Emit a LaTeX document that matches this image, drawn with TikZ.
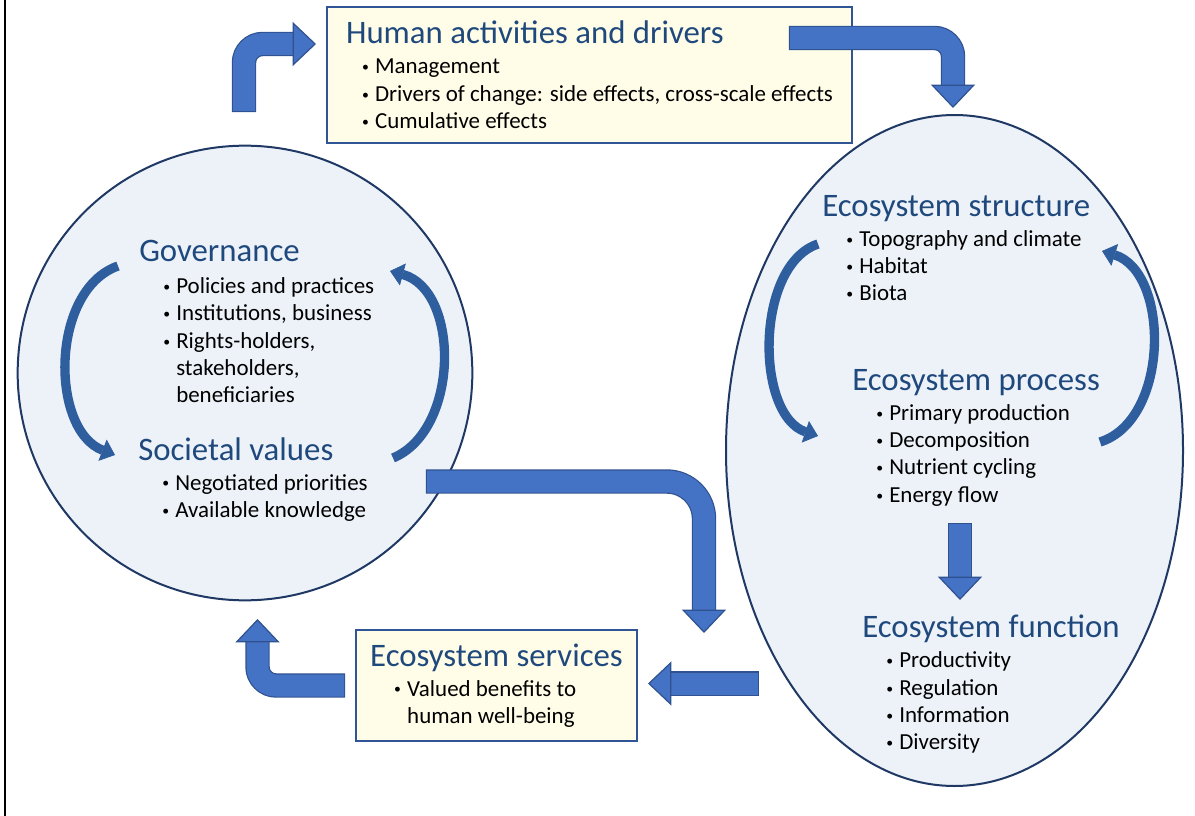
\documentclass[tikz,border=0pt]{standalone}
\usepackage{fontspec}
\setmainfont{Carlito}
\usepackage{graphicx}
\usepackage{tikz}
\usetikzlibrary{arrows.meta,positioning,shapes.geometric}

\definecolor{headblue}{RGB}{31,73,125}
\definecolor{boxedge}{RGB}{47,85,151}
\definecolor{boxfill}{RGB}{255,253,232}
\definecolor{zoneedge}{RGB}{31,56,100}
\definecolor{zonefill}{RGB}{237,242,249}
\definecolor{arrfill}{RGB}{68,114,196}
\definecolor{arredge}{RGB}{47,82,143}
\definecolor{loopblue}{RGB}{46,94,158}

\newcommand{\hdr}[1]{{\color{headblue}\fontsize{24.6}{28}\selectfont #1}}
\newcommand{\bul}[1][18pt]{\hspace*{#1}\makebox[9.75pt][l]{\raisebox{0.2ex}{\scalebox{0.6}{\textbullet}}}}
\newcommand{\hng}{\hspace*{27.75pt}}

\begin{document}
\begin{tikzpicture}[x=0.75pt,y=-0.75pt,
box/.style={draw=boxedge,line width=1.9pt,fill=boxfill,align=left,font=\fontsize{17.2}{20.5}\selectfont},
txt/.style={align=left,anchor=north west,inner sep=0pt,font=\fontsize{17.2}{20.5}\selectfont},
zone/.style={draw=zoneedge,line width=1.5pt,fill=zonefill,inner sep=0pt},
arr/.style={draw=arrfill,line width=16.5pt,rounded corners=14pt,
  -{Triangle[length=17.5pt,width=33pt,line width=0.9pt,color=arredge,fill=arrfill]},
  preaction={draw=arredge,line width=18.3pt,arrows=-,shorten >=16pt,shorten <=-0.9pt}},
looparr/.style={draw=loopblue,line width=7pt,-{Triangle[length=10pt,width=17pt,line width=0.5pt]}}]
\useasboundingbox (0,0) rectangle (1195,816);
\draw[line width=1.5pt] (5,0) -- (5,816);

% the two big zones
\node[zone,circle,minimum size=341pt] (society) at (245,373) {};
\node[zone,ellipse,minimum width=342.75pt,minimum height=503.25pt] (eco) at (954.5,450.5) {};

% boxes
\node[box,minimum width=393.75pt,minimum height=102pt] (hum) at (589.5,75)
  {\hdr{Human activities and drivers}\\[2pt]
   \bul[12pt]Management\\
   \bul[12pt]Drivers of change: side effects, cross-scale effects\\
   \bul[12pt]Cumulative effects};
\node[box,minimum width=210.75pt,minimum height=83.25pt] (serv) at (496.5,685.5)
  {\hdr{Ecosystem services}\\[2pt]
   \bul Valued benefits to\\
   \hng human well-being};

% text inside the zones
\node[txt] (gov) at (139,240) {\hdr{Governance}\\[3.5pt]
  \bul Policies and practices\\ \bul Institutions, business\\
  \bul Rights-holders,\\ \hng stakeholders,\\ \hng beneficiaries};
\node[txt] (soc) at (138,437) {\hdr{Societal values}\\[2pt]
  \bul Negotiated priorities\\ \bul Available knowledge};
\node[txt] (struc) at (822,195) {\hdr{Ecosystem structure}\\[2pt]
  \bul Topography and climate\\ \bul Habitat\\ \bul Biota};
\node[txt] (proc) at (852,369) {\hdr{Ecosystem process}\\[2pt]
  \bul Primary production\\ \bul Decomposition\\ \bul Nutrient cycling\\ \bul Energy flow};
\node[txt] (func) at (862,615) {\hdr{Ecosystem function}\\[2pt]
  \bul Productivity\\ \bul Regulation\\ \bul Information\\ \bul Diversity};

% ends of the block arrows
\coordinate (soc-up) at (244,111);
\coordinate (hum-in) at (316,44);
\coordinate (hum-out) at (790,38);
\coordinate (eco-in) at (953,108);
\coordinate (soc-out) at (427,481.5);
\coordinate (serv-top) at (704,633);
\coordinate (eco-out) at (758,683.5);
\coordinate (serv-in) at (648,683.5);
\coordinate (serv-out) at (344,685.5);
\coordinate (soc-in) at (257.5,619);
\coordinate (proc-out) at (960,524);
\coordinate (func-in) at (960,600);

\draw[arr] (soc-up) |- (hum-in);
\draw[arr] (hum-out) -| (eco-in);
\draw[arr,rounded corners=28pt] (soc-out) -| (serv-top);
\draw[arr] (eco-out) -- (serv-in);
\draw[arr] (serv-out) -| (soc-in);
\draw[arr] (proc-out) -- (func-in);

% feedback loops inside the zones
\coordinate (gov-l) at (118,266);
\coordinate (soc-l) at (115,455);
\coordinate (soc-r) at (393,458);
\coordinate (gov-r) at (390,271);
\coordinate (struc-l) at (818,244);
\coordinate (proc-l) at (818,436);
\coordinate (proc-r) at (1100,442);
\coordinate (struc-r) at (1102,251);
\draw[looparr] (gov-l) .. controls (50,290) and (50,430) .. (soc-l);
\draw[looparr] (soc-r) .. controls (460,430) and (460,290) .. (gov-r);
\draw[looparr] (struc-l) .. controls (755,265) and (755,415) .. (proc-l);
\draw[looparr] (proc-r) .. controls (1170,420) and (1170,272) .. (struc-r);
\end{tikzpicture}
\end{document}
